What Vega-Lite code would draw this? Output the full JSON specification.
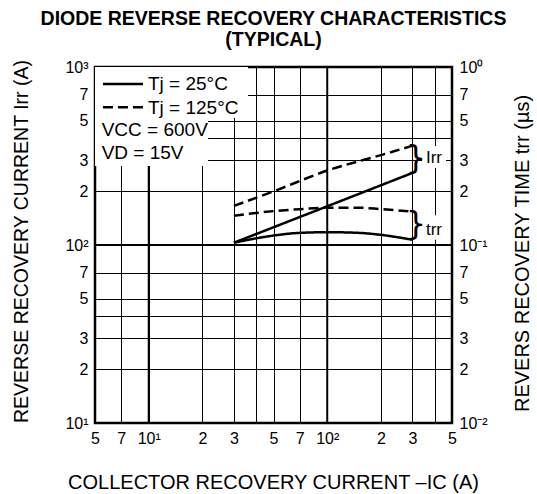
{
  "$schema": "https://vega.github.io/schema/vega-lite/v6.json",
  "width": 357,
  "height": 356,
  "autosize": {"type": "none"},
  "padding": {"left": 95, "top": 67, "right": 85, "bottom": 71},
  "background": "white",
  "title": {
    "text": ["DIODE REVERSE RECOVERY CHARACTERISTICS", "(TYPICAL)"],
    "font": "Liberation Sans",
    "fontSize": 19.5,
    "fontWeight": "bold",
    "color": "black",
    "anchor": "middle",
    "frame": "group",
    "lineHeight": 21,
    "offset": 8,
    "dy": 2
  },
  "config": {
    "view": {"stroke": "black", "strokeWidth": 2.5},
    "font": "Liberation Sans",
    "axis": {
      "labelFont": "Liberation Sans",
      "titleFont": "Liberation Sans",
      "labelColor": "black",
      "titleColor": "black",
      "labelFontSize": 16,
      "titleFontSize": 20,
      "titleFontWeight": "normal",
      "ticks": false,
      "domain": false
    }
  },
  "datasets": {
    "irr": [
      {"ic": 30, "irr": 103, "tj": "25"},
      {"ic": 100, "irr": 165, "tj": "25"},
      {"ic": 300, "irr": 254, "tj": "25"},
      {"ic": 30, "irr": 166, "tj": "125"},
      {"ic": 50, "irr": 200, "tj": "125"},
      {"ic": 100, "irr": 262, "tj": "125"},
      {"ic": 200, "irr": 320, "tj": "125"},
      {"ic": 300, "irr": 361, "tj": "125"}
    ],
    "trr": [
      {"ic": 30, "trr": 0.103, "tj": "25"},
      {"ic": 40, "trr": 0.109, "tj": "25"},
      {"ic": 50, "trr": 0.113, "tj": "25"},
      {"ic": 70, "trr": 0.117, "tj": "25"},
      {"ic": 100, "trr": 0.118, "tj": "25"},
      {"ic": 150, "trr": 0.117, "tj": "25"},
      {"ic": 200, "trr": 0.114, "tj": "25"},
      {"ic": 300, "trr": 0.107, "tj": "25"},
      {"ic": 30, "trr": 0.146, "tj": "125"},
      {"ic": 50, "trr": 0.155, "tj": "125"},
      {"ic": 70, "trr": 0.159, "tj": "125"},
      {"ic": 100, "trr": 0.162, "tj": "125"},
      {"ic": 150, "trr": 0.162, "tj": "125"},
      {"ic": 200, "trr": 0.159, "tj": "125"},
      {"ic": 300, "trr": 0.154, "tj": "125"}
    ],
    "decadeX": [{"v": 10}, {"v": 100}],
    "decadeY": [{"v": 100}],
    "boxes": [
      {"x1": 5, "x2": 36, "y1": 517, "y2": 1000},
      {"x1": 5, "x2": 21.5, "y1": 278, "y2": 517},
      {"x1": 340, "x2": 463, "y1": 271, "y2": 360},
      {"x1": 340, "x2": 463, "y1": 107, "y2": 147}
    ],
    "legendLines": [
      {"x1": 5.54, "x2": 9.29, "y": 803, "tj": "25"},
      {"x1": 5.54, "x2": 9.29, "y": 594, "tj": "125"}
    ],
    "legendText": [
      {"x": 9.9, "y": 803, "t": "Tj = 25°C"},
      {"x": 9.9, "y": 592, "t": "Tj = 125°C"},
      {"x": 5.45, "y": 443, "t": "VCC = 600V"},
      {"x": 5.45, "y": 329, "t": "VD = 15V"}
    ],
    "braces": [
      {"x": 314, "y": 308, "t": "}"},
      {"x": 314, "y": 132, "t": "}"}
    ],
    "curveLabels": [
      {"x": 396, "y": 310, "t": "Irr"},
      {"x": 396, "y": 121.4, "t": "trr"}
    ]
  },
  "layer": [
    {
      "data": {"name": "decadeY"},
      "mark": {"type": "rule", "color": "black", "strokeWidth": 2},
      "encoding": {
        "y": {
          "field": "v", "type": "quantitative",
          "scale": {"type": "log", "domain": [10, 1000]},
          "axis": {
            "orient": "left",
            "values": [10, 20, 30, 40, 50, 70, 100, 200, 300, 400, 500, 700, 1000],
            "labelExpr": "datum.value == 10 ? '10¹' : datum.value == 100 ? '10²' : datum.value == 1000 ? '10³' : (datum.value == 40 || datum.value == 400) ? '' : datum.value < 100 ? format(datum.value / 10, '.0f') : format(datum.value / 100, '.0f')",
            "grid": true,
            "gridColor": "black",
            "gridOpacity": 1,
            "gridWidth": 1,
            "labelPadding": 7,
            "labelFlush": false,
            "labelOverlap": false,
            "labelBaseline": "middle",
            "title": "REVERSE RECOVERY CURRENT  Irr (A)",
            "titleFontSize": 19.5,
            "titleAngle": -90,
            "titleX": -74,
            "titleY": 174,
            "titleAlign": "center",
            "titleBaseline": "middle"
          }
        }
      }
    },
    {
      "data": {"name": "decadeX"},
      "mark": {"type": "rule", "color": "black", "strokeWidth": 2},
      "encoding": {
        "x": {
          "field": "v", "type": "quantitative",
          "scale": {"type": "log", "domain": [5, 500]},
          "axis": {
            "orient": "bottom",
            "values": [5, 7, 10, 20, 30, 40, 50, 70, 100, 200, 300, 400, 500],
            "labelExpr": "datum.value == 10 ? '10¹' : datum.value == 100 ? '10²' : (datum.value == 40 || datum.value == 400) ? '' : datum.value < 10 ? format(datum.value, '.0f') : datum.value < 100 ? format(datum.value / 10, '.0f') : format(datum.value / 100, '.0f')",
            "grid": true,
            "gridColor": "black",
            "gridOpacity": 1,
            "gridWidth": 1,
            "labelPadding": 7,
            "labelFlush": false,
            "labelOverlap": false,
            "title": "COLLECTOR RECOVERY CURRENT  –IC (A)",
            "titleX": 178,
            "titleY": 65,
            "titleAlign": "center",
            "titleBaseline": "alphabetic"
          }
        }
      }
    },
    {
      "data": {"name": "boxes"},
      "mark": {"type": "rect", "fill": "white", "strokeWidth": 0},
      "encoding": {
        "x": {"field": "x1", "type": "quantitative", "scale": {"type": "log", "domain": [5, 500]}, "axis": null},
        "x2": {"field": "x2"},
        "y": {"field": "y1", "type": "quantitative", "scale": {"type": "log", "domain": [10, 1000]}, "axis": null},
        "y2": {"field": "y2"}
      }
    },
    {
      "data": {"name": "irr"},
      "mark": {"type": "line", "color": "black", "strokeWidth": 2.5, "interpolate": "monotone"},
      "encoding": {
        "x": {"field": "ic", "type": "quantitative", "scale": {"type": "log", "domain": [5, 500]}, "axis": null},
        "y": {"field": "irr", "type": "quantitative", "scale": {"type": "log", "domain": [10, 1000]}, "axis": null},
        "strokeDash": {"field": "tj", "type": "nominal", "scale": {"domain": ["25", "125"], "range": [[1, 0], [10, 5]]}, "legend": null}
      }
    },
    {
      "data": {"name": "trr"},
      "mark": {"type": "line", "color": "black", "strokeWidth": 2.5, "interpolate": "monotone"},
      "encoding": {
        "x": {"field": "ic", "type": "quantitative", "scale": {"type": "log", "domain": [5, 500]}, "axis": null},
        "y": {
          "field": "trr", "type": "quantitative",
          "scale": {"type": "log", "domain": [0.01, 1]},
          "axis": {
            "orient": "right",
            "values": [0.01, 0.02, 0.03, 0.05, 0.07, 0.1, 0.2, 0.3, 0.5, 0.7, 1],
            "labelExpr": "datum.value == 0.01 ? '10⁻²' : datum.value == 0.1 ? '10⁻¹' : datum.value == 1 ? '10⁰' : datum.value < 0.1 ? format(datum.value * 100, '.0f') : format(datum.value * 10, '.0f')",
            "grid": false,
            "labelPadding": 7,
            "labelFlush": false,
            "labelOverlap": false,
            "labelBaseline": "middle",
            "title": "REVERS RECOVERY TIME  trr (µs)",
            "titleAngle": -90,
            "titleX": 70,
            "titleY": 186,
            "titleAlign": "center",
            "titleBaseline": "middle"
          }
        },
        "strokeDash": {"field": "tj", "type": "nominal", "scale": {"domain": ["25", "125"], "range": [[1, 0], [10, 5]]}, "legend": null}
      }
    },
    {
      "data": {"name": "legendLines"},
      "mark": {"type": "rule", "color": "black", "strokeWidth": 2.5},
      "encoding": {
        "x": {"field": "x1", "type": "quantitative", "scale": {"type": "log", "domain": [5, 500]}, "axis": null},
        "x2": {"field": "x2"},
        "y": {"field": "y", "type": "quantitative", "scale": {"type": "log", "domain": [10, 1000]}, "axis": null},
        "strokeDash": {"field": "tj", "type": "nominal", "scale": {"domain": ["25", "125"], "range": [[1, 0], [10, 5]]}, "legend": null}
      }
    },
    {
      "data": {"name": "legendText"},
      "mark": {"type": "text", "align": "left", "baseline": "middle", "fontSize": 19, "font": "Liberation Sans", "color": "black"},
      "encoding": {
        "x": {"field": "x", "type": "quantitative", "scale": {"type": "log", "domain": [5, 500]}, "axis": null},
        "y": {"field": "y", "type": "quantitative", "scale": {"type": "log", "domain": [10, 1000]}, "axis": null},
        "text": {"field": "t"}
      }
    },
    {
      "data": {"name": "braces"},
      "mark": {"type": "text", "align": "center", "baseline": "middle", "fontSize": 32, "font": "DejaVu Sans", "color": "black"},
      "encoding": {
        "x": {"field": "x", "type": "quantitative", "scale": {"type": "log", "domain": [5, 500]}, "axis": null},
        "y": {"field": "y", "type": "quantitative", "scale": {"type": "log", "domain": [10, 1000]}, "axis": null},
        "text": {"field": "t"}
      }
    },
    {
      "data": {"name": "curveLabels"},
      "mark": {"type": "text", "align": "center", "baseline": "middle", "fontSize": 17, "font": "Liberation Sans", "color": "black"},
      "encoding": {
        "x": {"field": "x", "type": "quantitative", "scale": {"type": "log", "domain": [5, 500]}, "axis": null},
        "y": {"field": "y", "type": "quantitative", "scale": {"type": "log", "domain": [10, 1000]}, "axis": null},
        "text": {"field": "t"}
      }
    }
  ],
  "resolve": {"scale": {"x": "independent", "y": "independent"}}
}
